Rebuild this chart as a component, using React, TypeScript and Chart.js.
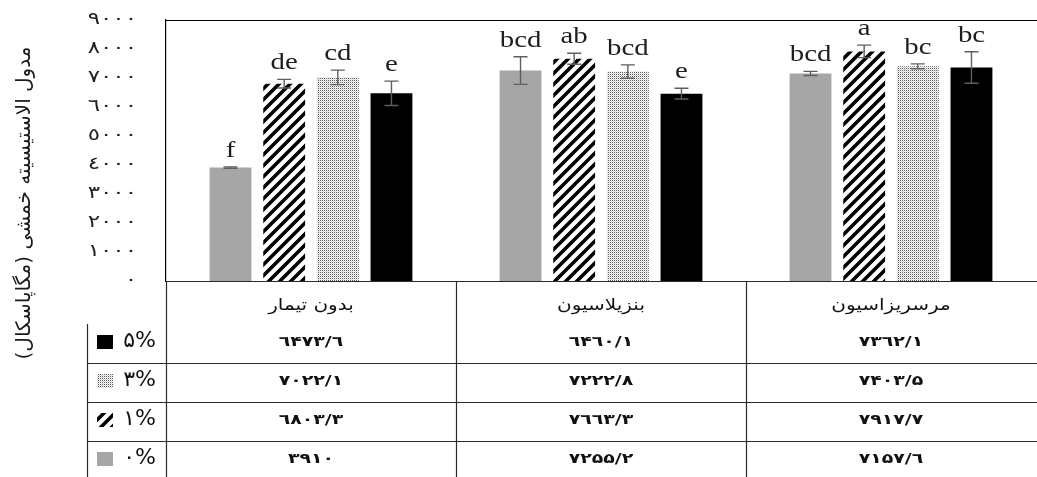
import React, { useEffect, useRef } from 'react';
import { Chart, registerables } from 'chart.js';

Chart.register(...registerables);

const categories = ['بدون تیمار', 'بنزیلاسیون', 'مرسریزاسیون'];
const seriesLabels = ['0%', '1%', '3%', '5%'];
const values0 = [3910, 7255.2, 7157.6];
const values1 = [6803.3, 7663.3, 7917.7];
const values3 = [7022.1, 7222.8, 7403.5];
const values5 = [6473.6, 6460.1, 7362.1];
const errors0 = [25, 475, 70];
const errors1 = [150, 190, 215];
const errors3 = [250, 230, 85];
const errors5 = [420, 185, 545];
const letters0 = ['f', 'bcd', 'bcd'];
const letters1 = ['de', 'ab', 'a'];
const letters3 = ['cd', 'bcd', 'bc'];
const letters5 = ['e', 'e', 'bc'];
const yTitle = 'مدول الاستیسیته خمشی (مگاپاسکال)';
const yMin = 0;
const yMax = 9000;
const yStep = 1000;

const seriesValues = [values0, values1, values3, values5];
const seriesErrors = [errors0, errors1, errors3, errors5];
const seriesLetters = [letters0, letters1, letters3, letters5];
// table rows top to bottom: 5%, 3%, 1%, 0%
const tableOrder = [3, 2, 1, 0];

const AR = '٠١٢٣٤٥٦٧٨٩';
const toArabic = (s: string) => s.replace(/\d/g, (d) => AR[+d]);
const toTableDigits = (s: string) =>
  s.replace(/\d/g, (d) => (d === '4' ? '۴' : d === '5' ? '۵' : AR[+d]));
const fmtValue = (v: number) =>
  toTableDigits(Number.isInteger(v) ? String(v) : v.toFixed(1).replace('.', '/'));

function makeHatch(): CanvasPattern | string {
  const s = 11;
  const c = document.createElement('canvas');
  c.width = s;
  c.height = s;
  const ctx = c.getContext('2d')!;
  ctx.fillStyle = '#ffffff';
  ctx.fillRect(0, 0, s, s);
  ctx.strokeStyle = '#000000';
  ctx.lineWidth = 3.6;
  ctx.beginPath();
  ctx.moveTo(-1, s + 1);
  ctx.lineTo(s + 1, -1);
  ctx.moveTo(-s / 2 - 1, s / 2 + 1);
  ctx.lineTo(s / 2 + 1, -s / 2 - 1);
  ctx.moveTo(s / 2 - 1, s * 1.5 + 1);
  ctx.lineTo(s * 1.5 + 1, s / 2 - 1);
  ctx.stroke();
  return ctx.createPattern(c, 'repeat') || '#555';
}

function makeDots(): CanvasPattern | string {
  const c = document.createElement('canvas');
  c.width = 2;
  c.height = 2;
  const ctx = c.getContext('2d')!;
  ctx.fillStyle = '#ffffff';
  ctx.fillRect(0, 0, 2, 2);
  ctx.fillStyle = '#555555';
  ctx.fillRect(0, 0, 1, 1);
  ctx.fillStyle = '#cfcfcf';
  ctx.fillRect(1, 1, 1, 1);
  return ctx.createPattern(c, 'repeat') || '#ccc';
}

function stretchedText(
  ctx: CanvasRenderingContext2D,
  text: string,
  x: number,
  y: number,
  sx: number,
  align: CanvasTextAlign,
) {
  ctx.save();
  ctx.translate(x, y);
  ctx.scale(sx, 1);
  ctx.textAlign = align;
  ctx.fillText(text, 0, 0);
  ctx.restore();
}

export default function App() {
  const ref = useRef<HTMLCanvasElement>(null);

  useEffect(() => {
    const canvas = ref.current;
    if (!canvas) return;
    const fills = ['#a6a6a6', makeHatch(), makeDots(), '#000000'];

    const overlay = {
      id: 'overlay',
      afterDatasetsDraw(chart: any) {
        const ctx = chart.ctx as CanvasRenderingContext2D;
        const ys = chart.scales.y;
        ctx.save();
        seriesValues.forEach((vals, di) => {
          const meta = chart.getDatasetMeta(di);
          meta.data.forEach((bar: any, i: number) => {
            const v = vals[i];
            const e = seriesErrors[di][i];
            const yT = ys.getPixelForValue(v + e);
            const yB = ys.getPixelForValue(v - e);
            const x = bar.x;
            ctx.strokeStyle = '#5f5f5f';
            ctx.lineWidth = 1.4;
            ctx.beginPath();
            ctx.moveTo(x, yT);
            ctx.lineTo(x, yB);
            ctx.moveTo(x - 7, yT);
            ctx.lineTo(x + 7, yT);
            ctx.moveTo(x - 7, yB);
            ctx.lineTo(x + 7, yB);
            ctx.stroke();
            ctx.fillStyle = '#1e1e1e';
            ctx.font = '24px "Liberation Serif", "DejaVu Serif", serif';
            ctx.textBaseline = 'alphabetic';
            stretchedText(ctx, seriesLetters[di][i], x, yT - 10, 1.2, 'center');
          });
        });
        ctx.restore();
      },
      afterDraw(chart: any) {
        const ctx = chart.ctx as CanvasRenderingContext2D;
        const { left, right, top, bottom } = chart.chartArea;
        const W = chart.width;
        const H = chart.height;
        const xs = chart.scales.x;
        const ys = chart.scales.y;
        const colW = (right - left) / categories.length;
        ctx.save();

        // y tick labels
        ctx.fillStyle = '#222222';
        ctx.font = '17px "DejaVu Sans", sans-serif';
        ctx.textBaseline = 'middle';
        ys.ticks.forEach((t: any) => {
          stretchedText(ctx, toArabic(String(t.value)), 137, ys.getPixelForValue(t.value), 1.35, 'right');
        });

        // top border
        ctx.strokeStyle = '#000000';
        ctx.lineWidth = 1.2;
        ctx.beginPath();
        ctx.moveTo(left, top + 0.5);
        ctx.lineTo(W, top + 0.5);
        ctx.stroke();

        // table lines
        const headerH = 43;
        const rowH = 39;
        const rowsTop = bottom + headerH;
        const legendLeft = 87;
        ctx.strokeStyle = '#2a2a2a';
        ctx.lineWidth = 1.2;
        ctx.beginPath();
        ctx.moveTo(left, bottom + 0.5);
        ctx.lineTo(W, bottom + 0.5);
        ctx.moveTo(left + 0.5, bottom);
        ctx.lineTo(left + 0.5, H);
        for (let i = 1; i < categories.length; i++) {
          const xb = Math.round(xs.getPixelForValue(i) - colW / 2) + 0.5;
          ctx.moveTo(xb, bottom);
          ctx.lineTo(xb, H);
        }
        ctx.moveTo(legendLeft + 0.5, rowsTop);
        ctx.lineTo(legendLeft + 0.5, H);
        for (let r = 1; r < tableOrder.length; r++) {
          const yy = Math.round(rowsTop + r * rowH) + 0.5;
          ctx.moveTo(legendLeft, yy);
          ctx.lineTo(W, yy);
        }
        ctx.stroke();

        // header texts
        ctx.fillStyle = '#111111';
        ctx.textBaseline = 'middle';
        ctx.font = '16px "DejaVu Sans", sans-serif';
        categories.forEach((c, i) => {
          stretchedText(ctx, c, xs.getPixelForValue(i), bottom + 25, 1.25, 'center');
        });
        // rows
        tableOrder.forEach((si, r) => {
          const yc = rowsTop + r * rowH + 18;
          ctx.font = 'bold 14px "DejaVu Sans", sans-serif';
          ctx.fillStyle = '#111111';
          seriesValues[si].forEach((v, i) => {
            stretchedText(ctx, fmtValue(v), xs.getPixelForValue(i), yc, 1.35, 'center');
          });
          // legend key
          ctx.fillStyle = fills[si] as any;
          ctx.fillRect(97, yc - 7, 16, 14);
          ctx.fillStyle = '#111111';
          ctx.font = '21px "DejaVu Sans", sans-serif';
          stretchedText(ctx, toTableDigits(seriesLabels[si]), 156, yc, 1.05, 'right');
        });

        // y-axis title
        ctx.save();
        ctx.translate(25, 203);
        ctx.rotate(-Math.PI / 2);
        ctx.textAlign = 'center';
        ctx.textBaseline = 'middle';
        ctx.fillStyle = '#1a1a1a';
        ctx.font = '20px "DejaVu Sans", sans-serif';
        ctx.fillText(yTitle, 0, 0);
        ctx.restore();
        ctx.restore();
      },
    };

    const chart = new Chart(canvas, {
      type: 'bar',
      data: {
        labels: categories,
        datasets: seriesValues.map((vals, i) => ({
          label: seriesLabels[i],
          data: vals,
          backgroundColor: fills[i] as any,
          borderWidth: 0,
          categoryPercentage: 0.74,
          barPercentage: 0.78,
        })),
      },
      options: {
        responsive: false,
        animation: false,
        layout: { padding: { top: 20, bottom: 196, left: 0, right: 1 } },
        plugins: { legend: { display: false }, tooltip: { enabled: false } },
        scales: {
          x: { display: false },
          y: {
            min: yMin,
            max: yMax,
            ticks: { stepSize: yStep, display: false },
            grid: { display: false, drawTicks: false },
            border: { display: true, color: '#000000', width: 1.2 },
            afterFit: (s: any) => {
              s.width = 166;
            },
          },
        },
      },
      plugins: [overlay],
    });
    return () => chart.destroy();
  }, []);

  return (
    <div style={{ position: 'fixed', left: 0, top: 0, width: 1037, height: 477, background: '#fff' }}>
      <canvas ref={ref} width={1037} height={477} style={{ display: 'block' }} />
    </div>
  );
}
